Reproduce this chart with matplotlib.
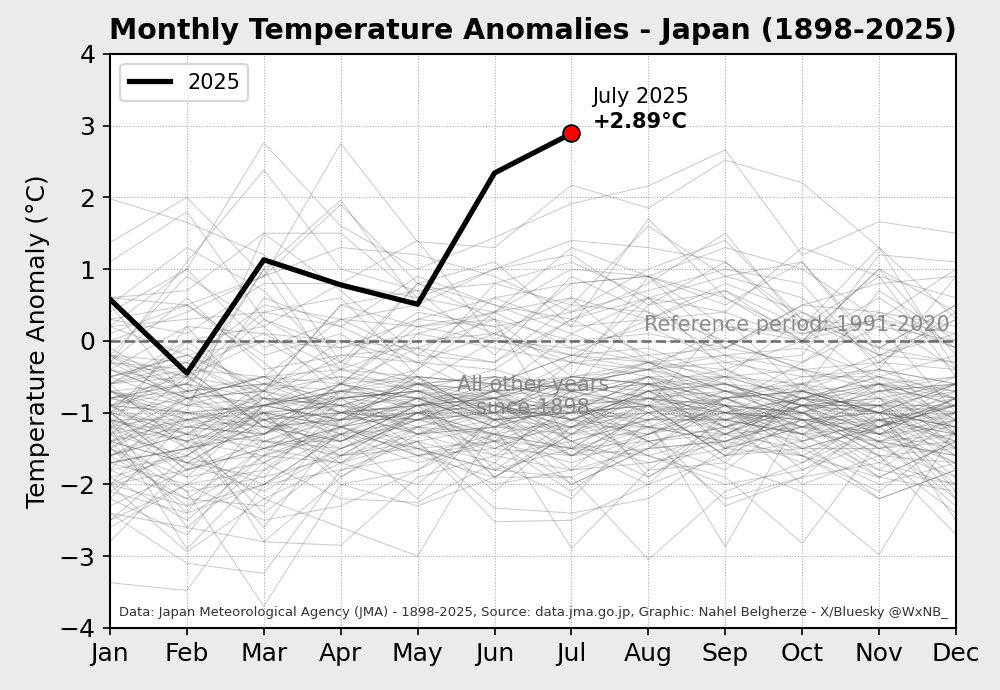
import matplotlib
matplotlib.use("Agg")
import matplotlib.pyplot as plt
import numpy as np

months = ["Jan", "Feb", "Mar", "Apr", "May", "Jun", "Jul", "Aug", "Sep", "Oct", "Nov", "Dec"]

# 2025 anomalies (Jan-Jul)
anom_2025 = [0.58, -0.45, 1.13, 0.78, 0.51, 2.34, 2.89]

# Other years, grouped by decade
years_1898_1909 = [
    [-1.8, -2.2, -1.5, -1.0, -1.3, -1.6, -0.9, -1.2, -1.4, -1.1, -1.7, -2.0],
    [-2.1, -1.4, -2.6, -1.2, -0.8, -1.9, -1.3, -0.6, -1.0, -1.5, -1.2, -0.9],
    [-3.37, -3.48, -2.0, -1.5, -1.1, -1.4, -2.1, -1.3, -0.9, -1.6, -2.2, -1.8],
    [-1.2, -2.9, -1.8, -1.3, -2.2, -1.0, -1.5, -2.0, -1.6, -0.8, -1.0, -2.5],
    [-0.9, -1.5, -2.2, -2.6, -3.0, -1.2, -2.89, -1.8, -1.1, -1.3, -1.9, -1.4],
    [-1.5, -0.8, -1.1, -1.7, -1.0, -0.9, -1.2, -1.6, -2.0, -1.8, -1.4, -2.2],
    [-2.5, -2.0, -1.3, -1.0, -0.7, -1.8, -1.1, -0.8, -1.3, -1.5, -2.0, -1.7],
    [-1.0, -1.8, -1.5, -1.2, -1.4, -2.33, -2.4, -2.2, -1.5, -0.6, -1.3, -1.0],
    [-2.2, -1.1, -2.8, -1.9, -1.2, -1.5, -1.0, -1.4, -2.2, -1.9, -1.1, -1.6],
    [-1.4, -2.4, -1.0, -2.0, -1.8, -1.1, -1.6, -1.0, -1.7, -2.1, -2.98, -1.2],
    [-2.8, -1.7, -1.9, -0.8, -1.5, -2.0, -1.8, -1.5, -0.8, -1.2, -1.6, -2.7],
    [-1.6, -1.3, -2.4, -1.6, -1.0, -1.3, -0.7, -1.9, -1.2, -1.4, -0.9, -1.5],
]
years_1910s = [
    [-1.1, -2.6, -1.7, -2.2, -2.25, -1.7, -2.2, -1.1, -2.87, -1.0, -1.5, -1.9],
    [-2.0, -1.0, -1.2, -1.4, -0.9, -0.8, -1.4, -1.7, -1.4, -1.6, -2.1, -1.3],
    [-1.3, -2.1, -3.7, -2.0, -2.3, -1.9, -1.9, -3.05, -2.1, -1.7, -1.0, -2.2],
    [-2.4, -3.1, -3.24, -1.8, -1.4, -2.52, -2.5, -2.0, -1.0, -1.3, -1.8, -1.1],
    [-0.7, -1.2, -0.9, -1.1, -0.6, -1.0, -1.0, -0.5, -1.5, -0.9, -1.3, -1.7],
    [-1.9, -1.6, -2.0, -1.3, -1.7, -1.4, -1.7, -1.3, -0.9, -1.8, -1.2, -2.0],
    [-1.5, -2.3, -1.6, -1.7, -1.2, -2.1, -1.2, -0.9, -1.6, -1.1, -1.9, -1.4],
    [-2.6, -2.0, -2.5, -2.3, -1.8, -1.3, -1.1, -1.6, -1.9, -2.82, -1.4, -2.3],
    [-2.2, -2.7, -1.4, -1.6, -1.5, -1.8, -1.5, -1.2, -2.3, -1.9, -1.7, -1.0],
    [-0.8, -0.5, -1.1, -1.5, -1.1, -0.7, -0.8, -1.4, -1.3, -1.2, -0.6, -1.5],
]
years_1920s = [
    [-2.0, -1.5, -1.3, -0.9, -1.6, -1.5, -1.6, -1.0, -1.1, -2.0, -1.6, -2.4],
    [-1.4, -0.9, -1.0, -1.9, -1.3, -1.2, -0.9, -1.8, -1.7, -0.7, -1.0, -1.2],
    [-1.7, -2.0, -1.8, -1.0, -0.9, -1.9, -1.3, -0.7, -0.5, -1.4, -2.2, -1.8],
    [-1.2, -1.4, -0.7, -1.4, -1.1, -1.0, -2.0, -1.5, -1.4, -1.0, -1.4, -1.6],
    [-1.9, -2.5, -1.6, -1.2, -1.6, -1.4, -0.6, -0.8, -1.2, -1.6, -1.1, -1.3],
    [-1.0, -1.7, -2.1, -1.5, -1.0, -1.6, -1.4, -1.1, -0.7, -1.1, -1.8, -2.0],
    [-2.3, -1.8, -1.5, -1.7, -2.0, -1.1, -1.8, -1.7, -1.5, -1.2, -1.3, -1.1],
    [-1.6, -2.2, -2.3, -1.1, -0.8, -0.8, -1.1, -1.3, -1.0, -0.8, -0.9, -2.1],
    [-1.3, -1.1, -1.2, -1.6, -1.4, -1.7, -0.7, -0.9, -1.6, -1.5, -1.5, -1.4],
    [-1.8, -1.6, -0.8, -1.3, -1.2, -1.3, -1.5, -1.6, -1.3, -1.7, -1.2, -0.8],
]
years_1930s = [
    [-0.6, -0.4, -1.2, -1.4, -1.0, -0.6, -0.8, -0.5, -1.1, -1.3, -0.7, -1.3],
    [-1.5, -1.9, -1.7, -1.2, -1.5, -1.8, -1.9, -1.4, -1.8, -1.0, -1.6, -1.7],
    [-1.1, -1.3, -1.4, -1.0, -0.7, -1.1, -1.2, -0.8, -0.9, -1.4, -1.1, -0.9],
    [-1.7, -1.5, -1.0, -1.6, -1.3, -1.0, -0.5, -0.6, -1.2, -0.9, -1.3, -1.5],
    [-2.1, -2.4, -2.0, -1.8, -1.6, -1.9, -1.2, -1.0, -1.5, -1.6, -1.9, -2.1],
    [-1.0, -0.8, -1.5, -1.3, -1.1, -1.3, -1.6, -1.2, -0.8, -1.1, -1.0, -1.4],
    [-2.0, -2.94, -2.2, -1.7, -1.4, -1.2, -1.3, -1.3, -1.1, -1.3, -1.4, -1.6],
    [-0.9, -1.0, -0.9, -1.1, -1.0, -1.4, -1.0, -0.9, -1.3, -0.8, -1.2, -1.0],
    [-1.4, -1.2, -1.3, -0.8, -1.3, -0.9, -1.4, -1.1, -1.0, -1.2, -0.8, -1.8],
    [-1.2, -1.7, -1.1, -1.4, -0.9, -1.5, -1.1, -0.7, -0.6, -1.0, -1.5, -1.1],
]
years_1940s = [
    [-1.6, -1.1, -1.4, -1.5, -1.2, -1.0, -0.9, -1.4, -1.2, -0.7, -1.0, -0.9],
    [-1.3, -1.6, -1.0, -1.2, -1.6, -1.3, -2.0, -1.5, -1.4, -1.1, -1.3, -1.2],
    [-1.1, -1.4, -1.6, -0.7, -0.8, -1.2, -0.7, -1.0, -0.9, -1.5, -1.2, -1.7],
    [-1.8, -0.7, -0.5, -1.0, -1.1, -0.8, -0.6, -0.7, -1.3, -0.9, -1.4, -1.3],
    [-1.5, -2.1, -1.9, -1.6, -1.0, -1.1, -1.0, -1.1, -1.1, -1.0, -1.6, -1.5],
    [-2.4, -2.6, -2.8, -2.85, -1.9, -1.6, -1.8, -0.9, -1.6, -1.4, -1.1, -1.9],
    [-1.2, -1.0, -0.9, -0.6, -1.0, -1.0, -0.8, -1.2, -1.0, -0.8, -0.5, -1.1],
    [-1.7, -1.5, -1.2, -1.1, -0.5, -1.4, -1.2, -0.6, -1.5, -1.2, -0.9, -1.6],
    [-0.5, -0.3, -0.8, -0.9, -1.2, -0.9, -1.1, -1.0, -0.7, -1.1, -1.0, -0.6],
    [-0.8, -0.6, -1.3, -0.7, -0.8, -1.2, -0.9, -0.8, -1.0, -0.6, -1.1, -1.0],
]
years_1950s = [
    [-0.7, -0.9, -0.6, -1.0, -0.9, -0.5, -0.7, -0.6, -0.9, -1.0, -0.7, -0.8],
    [-1.0, -1.2, -1.1, -0.8, -0.7, -1.1, -1.0, -0.9, -0.8, -1.3, -1.2, -0.7],
    [-0.9, -0.7, -1.4, -1.1, -1.1, -0.7, -1.3, -1.1, -1.1, -0.9, -0.8, -1.2],
    [-0.4, -0.8, -0.7, -0.9, -0.6, -1.0, -1.6, -1.3, -0.8, -0.7, -0.9, -0.5],
    [-1.4, -1.1, -1.0, -1.3, -1.5, -1.4, -1.5, -0.8, -0.6, -1.0, -0.6, -0.9],
    [-0.6, -0.5, -1.2, -0.6, -0.9, -0.8, -0.3, -0.5, -0.7, -0.8, -1.0, -0.8],
    [-1.6, -1.3, -1.5, -1.2, -1.0, -0.9, -1.1, -1.2, -1.4, -0.9, -1.5, -1.3],
    [-1.1, -1.9, -0.9, -0.7, -1.3, -1.2, -1.2, -0.7, -0.9, -1.0, -0.7, -0.6],
    [-0.8, -0.6, -0.8, -0.8, -0.7, -0.6, -0.8, -0.9, -0.5, -0.8, -0.9, -0.7],
    [-0.3, -0.4, -0.5, -0.9, -0.8, -0.9, -0.9, -0.6, -0.8, -1.2, -1.1, -0.9],
]
years_1960s = [
    [-0.5, -0.9, -0.8, -1.2, -1.0, -0.7, -0.6, -0.4, -0.7, -0.6, -0.8, -1.0],
    [-1.2, -0.7, -0.6, -0.5, -0.6, -0.8, -0.5, -0.6, -0.6, -0.9, -0.6, -1.1],
    [-0.9, -1.0, -1.1, -1.0, -0.9, -1.0, -0.9, -0.8, -1.0, -1.1, -1.3, -0.8],
    [-2.5, -1.6, -0.9, -0.8, -0.7, -0.9, -0.7, -0.9, -1.2, -0.9, -0.4, -0.6],
    [-0.6, -1.5, -1.3, -0.6, -0.5, -1.1, -0.8, -0.5, -0.9, -1.3, -0.9, -0.9],
    [-1.0, -1.8, -1.4, -1.4, -0.9, -0.7, -1.1, -0.7, -1.1, -0.8, -0.7, -0.6],
    [-1.3, -0.5, -0.7, -1.0, -1.3, -1.1, -0.9, -1.1, -0.8, -0.7, -1.0, -1.2],
    [-1.1, -1.1, -0.9, -0.7, -0.6, -0.5, -0.7, -0.3, -0.9, -1.0, -1.2, -0.9],
    [-0.7, -1.3, -1.0, -0.9, -1.1, -0.9, -1.2, -1.2, -1.3, -0.8, -0.5, -0.7],
    [-1.5, -1.0, -1.7, -1.1, -0.9, -0.8, -1.0, -0.8, -0.7, -0.9, -0.9, -1.3],
]
years_1970s = [
    [-1.4, -1.7, -1.6, -1.3, -0.8, -1.2, -0.6, -0.4, -1.0, -1.1, -1.1, -1.4],
    [-0.9, -0.6, -1.0, -0.9, -1.0, -0.8, -0.9, -0.7, -1.2, -0.8, -1.3, -0.8],
    [-0.4, -0.8, -0.5, -0.4, -0.7, -1.0, -0.5, -0.6, -0.8, -0.5, -0.4, -0.6],
    [-0.8, -1.1, -0.9, -0.6, -0.8, -1.1, -0.3, -0.2, -0.6, -0.9, -1.0, -1.2],
    [-1.6, -1.2, -1.3, -0.8, -0.9, -0.9, -1.3, -0.9, -1.1, -0.7, -1.2, -0.9],
    [-0.7, -1.1, -0.8, -0.9, -0.6, -0.7, -0.6, -0.3, -0.4, -0.8, -0.6, -0.8],
    [-1.0, -0.4, -1.2, -1.1, -1.0, -1.3, -1.5, -1.4, -1.2, -1.0, -1.4, -1.1],
    [-2.0, -1.8, -0.9, -0.7, -0.9, -0.7, -0.6, -1.0, -0.8, -0.7, -0.6, -0.7],
    [-1.1, -1.4, -1.1, -1.0, -0.5, -0.6, -0.2, -0.3, -0.7, -0.9, -0.9, -0.6],
    [-0.5, -0.2, -0.6, -0.8, -0.7, -0.4, -0.7, -0.5, -0.5, -0.4, -0.7, -0.5],
]
years_1980s = [
    [-0.9, -1.4, -1.0, -1.2, -0.8, -0.7, -1.4, -1.9, -1.3, -0.9, -0.8, -1.5],
    [-1.7, -1.5, -0.8, -1.0, -1.1, -1.0, -0.6, -0.8, -0.9, -1.2, -1.4, -1.0],
    [-0.8, -0.7, -0.6, -0.7, -0.5, -1.1, -1.0, -0.5, -0.8, -0.6, -0.4, -0.8],
    [-0.9, -1.3, -0.6, -0.3, -0.6, -0.9, -1.1, -0.6, -0.4, -0.9, -1.1, -1.3],
    [-2.0, -2.3, -2.0, -1.3, -0.9, -0.6, -0.5, -0.3, -0.7, -1.0, -0.9, -1.0],
    [-1.3, -0.8, -0.7, -0.5, -0.7, -0.8, -0.5, -0.4, -0.6, -0.7, -1.0, -1.1],
    [-1.4, -1.7, -1.1, -0.8, -0.6, -0.7, -1.0, -0.9, -1.0, -1.1, -1.2, -0.8],
    [-0.6, -0.3, -0.9, -0.4, -0.5, -0.6, -0.7, -0.6, -0.5, -0.8, -0.6, -0.5],
    [-0.7, -1.0, -1.3, -0.6, -0.8, -0.5, -1.1, -0.7, -0.6, -0.9, -1.0, -0.6],
    [0.3, 0.5, -0.2, 0.1, -0.6, -0.5, -0.6, -0.4, -0.2, -0.7, -0.3, -0.4],
]
years_1990s = [
    [-0.4, 0.2, 0.1, 0.0, -0.3, 0.1, -0.2, 0.3, 0.4, 0.0, 0.6, -0.1],
    [-0.5, -0.2, 0.0, -0.1, 0.1, 0.4, -0.1, -0.3, 0.0, -0.4, -0.3, 0.3],
    [0.2, 0.3, 0.4, 0.6, -0.5, -0.6, -0.2, -0.1, -0.5, -0.6, -0.2, 0.1],
    [-0.3, 0.6, -0.4, -0.2, -0.3, -0.8, -1.6, -1.5, -0.9, -0.3, 0.2, 0.0],
    [-0.6, -0.1, -0.7, 0.5, 0.2, 0.4, 1.0, 0.9, 0.6, 0.1, 0.3, -0.1],
    [-0.2, -0.5, 0.0, -0.6, -0.1, -0.7, 0.1, 0.6, -0.4, 0.0, -0.8, -0.6],
    [-0.1, -0.7, -0.9, -1.1, -0.6, 0.0, -0.2, -0.4, -0.3, -0.5, -0.5, -0.2],
    [-0.2, -0.3, 0.5, 0.3, 0.2, 0.3, 0.0, 0.1, -0.1, -0.3, 0.4, 0.2],
    [0.0, 0.4, 0.9, 1.9, 0.8, 0.5, 0.3, 0.6, 0.9, 1.1, -0.1, 0.5],
    [-0.4, -0.6, 0.3, -0.1, 0.3, 0.2, 0.4, 1.0, 1.4, 0.3, -0.1, -0.3],
]
years_2000s = [
    [0.5, -0.8, -0.5, -0.6, 0.2, 0.0, 0.8, 0.9, 0.2, 0.1, 0.3, -0.4],
    [-0.9, -0.4, 0.1, -0.4, 0.0, 0.1, 0.6, -0.3, -0.2, -0.1, -0.5, -0.8],
    [0.6, 0.7, 1.5, 0.7, -0.2, -0.3, 0.5, 0.4, 0.0, -0.4, -1.2, -0.6],
    [-0.6, 0.0, -0.8, -0.2, -0.1, 0.3, -1.5, -0.9, 0.3, -0.7, 0.7, 0.0],
    [-0.2, 0.9, 0.2, 0.8, 0.6, 1.0, 1.2, 0.5, 0.7, 0.0, 1.0, 0.4],
    [-0.3, -0.8, -0.5, 0.3, -0.2, 0.6, 0.2, 0.3, 0.8, 0.4, -0.2, -1.3],
    [-1.0, 0.0, 0.2, -0.8, 0.1, -0.1, -0.3, 0.6, -0.1, 0.5, 0.4, -0.1],
    [1.1, 1.8, 0.3, -0.3, 0.4, 0.2, -0.7, 0.5, 1.1, 0.3, -0.2, 0.3],
    [-0.2, -0.9, 0.6, 0.2, -0.3, -0.4, 0.3, -0.2, -0.1, 0.4, -0.1, 0.5],
    [0.4, 1.0, -0.1, 0.3, 0.5, 0.1, -0.3, -0.4, 0.2, 0.0, 0.3, 0.1],
]
years_2010s = [
    [0.1, 0.5, -0.3, -1.2, -0.4, 0.8, 0.5, 1.6, 0.9, 0.6, -0.3, 0.4],
    [-1.2, 0.2, -1.0, -0.7, -0.4, 0.4, 0.6, 0.3, 0.7, 0.2, 0.9, -0.5],
    [-1.0, -1.3, -0.7, 0.0, -0.1, -0.3, 0.3, 0.8, 1.5, 0.2, -0.6, -1.3],
    [-0.7, -0.6, 1.0, -0.6, 0.3, 0.6, 0.8, 0.9, 0.5, 1.1, -0.2, -0.3],
    [-0.3, -0.5, 0.4, 0.2, 0.9, 0.5, 0.1, -0.3, -0.5, 0.3, 0.2, -1.0],
    [0.3, 0.1, 0.8, 0.8, 1.4, 0.0, -0.1, 0.2, -0.3, -0.2, 1.2, 1.1],
    [0.6, 0.5, 0.9, 1.3, 1.2, 0.9, 0.4, 0.7, 1.0, 0.8, -0.4, 0.9],
    [0.2, -0.2, -0.7, 0.5, 0.7, -0.2, 0.9, 0.4, -0.2, -0.4, -0.6, -0.9],
    [-0.8, -1.0, 1.5, 1.5, 0.6, 0.4, 1.3, 0.9, -0.1, 0.5, 0.8, 0.9],
    [0.5, 1.3, 0.7, -0.4, 0.8, 0.3, -0.5, 0.9, 1.3, 1.0, 0.3, 1.0],
]
years_2020_2024 = [
    [1.98, 1.65, 1.2, -0.3, 0.8, 1.1, 0.2, 1.7, 0.6, 0.0, 1.0, -0.2],
    [-0.3, 1.1, 2.38, 1.0, 0.7, 0.8, 1.1, 0.6, 0.4, 1.3, 0.9, 0.6],
    [-0.2, -0.7, 1.0, 1.96, 0.5, 1.0, 1.4, 1.3, 1.1, 0.2, 1.3, -0.4],
    [0.2, 1.0, 2.76, 1.6, 1.0, 1.44, 1.91, 2.16, 2.66, 1.2, 1.66, 1.5],
    [1.37, 2.0, 0.9, 2.75, 1.38, 1.3, 2.17, 1.85, 2.52, 2.2, 1.3, 0.3],
]

other_years = (years_1898_1909 + years_1910s + years_1920s + years_1930s +
               years_1940s + years_1950s + years_1960s + years_1970s +
               years_1980s + years_1990s + years_2000s + years_2010s +
               years_2020_2024)

fig = plt.figure(figsize=(1000 / 150, 690 / 150), dpi=150, facecolor="#ebebeb")
ax = fig.add_axes([0.11, 0.09, 0.846, 0.832])
ax.set_facecolor("white")

x = np.arange(12)
for row in other_years:
    ax.plot(x, row, color="#555555", alpha=0.3, lw=0.5, zorder=1)

ax.axhline(0, color="#555555", ls="--", lw=1.3, alpha=0.8, zorder=2)

x25 = np.arange(len(anom_2025))
ax.plot(x25, anom_2025, color="black", lw=2.5, zorder=4, label="2025")
ax.plot(x25[-1], anom_2025[-1], "o", color="red", mec="black", mew=0.9, ms=8, zorder=5)

ax.text(6.9, 3.4, "July 2025", ha="center", va="center", fontsize=10)
ax.text(6.9, 3.05, "+2.89°C", ha="center", va="center", fontsize=10, fontweight="bold")

ax.text(10.92, 0.22, "Reference period: 1991-2020", ha="right", va="center",
        fontsize=10, color="gray", alpha=0.9, zorder=3)
ax.text(5.5, -0.77, "All other years\nsince 1898", ha="center", va="center",
        fontsize=10, color="gray", alpha=0.9, zorder=3, multialignment="center")
ax.text(0.5, 0.026,
        "Data: Japan Meteorological Agency (JMA) - 1898-2025, Source: data.jma.go.jp, "
        "Graphic: Nahel Belgherze - X/Bluesky @WxNB_",
        transform=ax.transAxes, ha="center", va="center", fontsize=6.3, color="#333333")

ax.set_xlim(0, 11)
ax.set_ylim(-4, 4)
ax.set_xticks(x)
ax.set_xticklabels(months)
ax.set_yticks(np.arange(-4, 5, 1))
ax.tick_params(labelsize=12)
ax.grid(True, ls=":", lw=0.5, color="#aaaaaa")
ax.set_axisbelow(True)
ax.set_ylabel("Temperature Anomaly (°C)", fontsize=12)
ax.set_title("Monthly Temperature Anomalies - Japan (1898-2025)", fontsize=13.6,
             fontweight="bold", pad=7)
ax.legend(loc="upper left", fontsize=10)
for s in ax.spines.values():
    s.set_linewidth(1.0)

fig.savefig("out.png", dpi=150, facecolor=fig.get_facecolor())
